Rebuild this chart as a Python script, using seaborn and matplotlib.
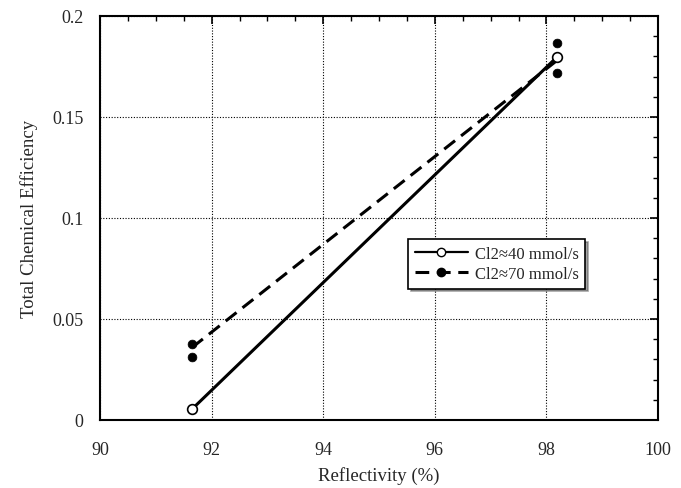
import matplotlib
matplotlib.use("Agg")
import matplotlib.pyplot as plt
import seaborn as sns
import pandas as pd
from matplotlib.lines import Line2D
from matplotlib.ticker import MultipleLocator

sns.set_style("white")
plt.rcParams['font.family'] = ['Liberation Serif', 'DejaVu Serif']

# data
refl_40 = [91.65, 98.19]
eff_40 = [0.0054, 0.1797]
refl_70 = [91.65, 91.65, 98.19, 98.19]
eff_70 = [0.0376, 0.0312, 0.1866, 0.1720]
fit_refl_70 = [91.65, 98.19]
fit_eff_70 = [0.0359, 0.1780]
label_40 = "Cl2\u224840 mmol/s"
label_70 = "Cl2\u224870 mmol/s"

df40 = pd.DataFrame({"x": refl_40, "y": eff_40})
df70 = pd.DataFrame({"x": refl_70, "y": eff_70})
dfit = pd.DataFrame({"x": fit_refl_70, "y": fit_eff_70})

fig = plt.figure(figsize=(6.81, 4.89), dpi=100)
ax = fig.add_axes([100/681, 1-421/489, 558/681, 404/489])

sns.lineplot(data=dfit, x="x", y="y", ax=ax, color="black", lw=2.2,
             dashes=False, linestyle=(0, (4.5, 2.5)), legend=False, zorder=3)
sns.scatterplot(data=df70, x="x", y="y", ax=ax, color="black", s=40,
                edgecolor="black", legend=False, zorder=4)
sns.lineplot(data=df40, x="x", y="y", ax=ax, color="black", lw=2.2,
             marker="o", markersize=7, markerfacecolor="white",
             markeredgecolor="black", markeredgewidth=1.2, legend=False, zorder=5)

ax.set_xlim(90, 100)
ax.set_ylim(0, 0.2)
ax.xaxis.set_major_locator(MultipleLocator(2))
ax.xaxis.set_minor_locator(MultipleLocator(0.5))
ax.yaxis.set_major_locator(MultipleLocator(0.05))
ax.yaxis.set_minor_locator(MultipleLocator(0.01))
ax.set_xticks([90, 92, 94, 96, 98, 100])
ax.set_xticklabels(["90", "92", "94", "96", "98", "100"])
ax.set_yticks([0, 0.05, 0.1, 0.15, 0.2])
ax.set_yticklabels(["0", "0.05", "0.1", "0.15", "0.2"])
ax.tick_params(which="both", direction="in", top=True, right=True, color="black")
ax.tick_params(which="major", length=6, width=1.2, labelsize=13, pad=15)
ax.tick_params(which="minor", length=3.5, width=1)
ax.tick_params(axis="y", pad=12)
for s in ax.spines.values():
    s.set_color("black")
    s.set_linewidth(1.5)
ax.grid(True, which="major", color="black", linestyle=(0, (1, 1.5)), lw=0.8)
ax.set_axisbelow(True)

ax.set_xlabel("Reflectivity (%)", fontsize=13.5, labelpad=6)
ax.set_ylabel("Total Chemical Efficiency", fontsize=13.5, labelpad=10)

handles = [
    Line2D([0], [0], color="black", lw=1.6, marker="o", markersize=6,
           markerfacecolor="white", markeredgecolor="black"),
    Line2D([0], [0], color="black", lw=2.2, linestyle=(0, (4.5, 2.5)),
           marker="o", markersize=6, markerfacecolor="black"),
]
leg = ax.legend(handles, [label_40, label_70], loc="upper left",
                bbox_to_anchor=((408-100)/558, (421-240)/404), fontsize=12,
                frameon=True, fancybox=False, shadow=True, framealpha=1,
                edgecolor="black", handlelength=3.2, borderpad=0.4,
                borderaxespad=0, labelspacing=0.25, handletextpad=0.4)
leg.get_frame().set_linewidth(1.2)

fig.savefig("out.png", dpi=100)
